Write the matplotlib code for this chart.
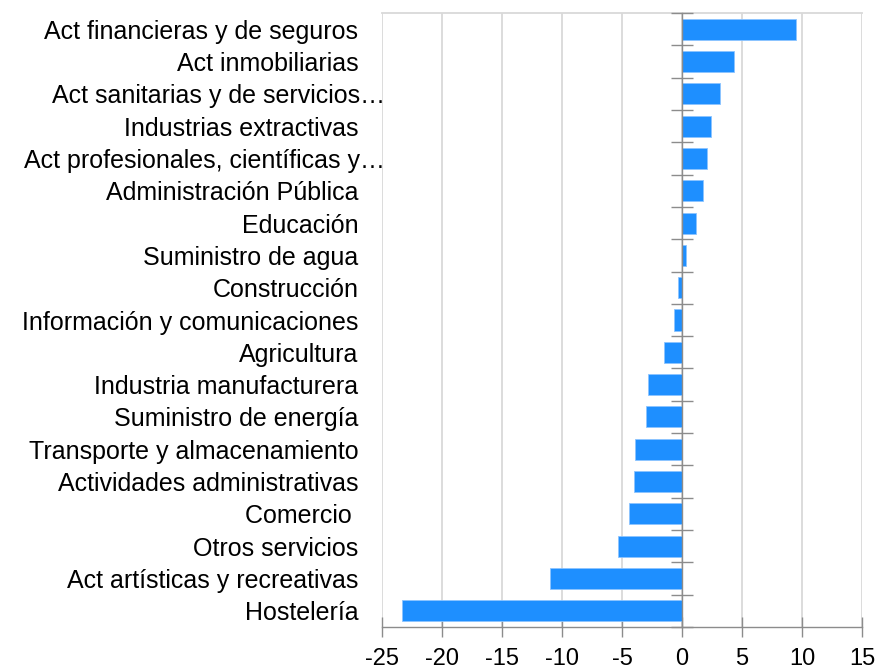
import matplotlib.pyplot as plt
import matplotlib.transforms as mtransforms

plt.rcParams['font.family'] = ['Liberation Sans', 'DejaVu Sans']
plt.rcParams['axes.unicode_minus'] = False

sectors = [
    "Act financieras y de seguros",
    "Act inmobiliarias",
    "Act sanitarias y de servicios…",
    "Industrias extractivas",
    "Act profesionales, científicas y…",
    "Administración Pública",
    "Educación",
    "Suministro de agua",
    "Construcción",
    "Información y comunicaciones",
    "Agricultura",
    "Industria manufacturera",
    "Suministro de energía",
    "Transporte y almacenamiento",
    "Actividades administrativas",
    "Comercio ",
    "Otros servicios",
    "Act artísticas y recreativas",
    "Hostelería",
]
change = [9.5, 4.3, 3.2, 2.45, 2.1, 1.75, 1.2, 0.3, -0.3, -0.65, -1.5,
          -2.8, -3.0, -3.9, -4.0, -4.4, -5.3, -11.0, -23.3]

fig = plt.figure(figsize=(8.77, 6.69), dpi=100)
rect = [382 / 877, 42 / 669, 480 / 877, 614 / 669]
ax = fig.add_axes(rect)

n = len(sectors)
ypos = list(range(n))[::-1]
ax.barh(ypos, change, height=0.65, color='#1e8fff', edgecolor='#8cc4ff',
        linewidth=0.6, zorder=3)

ax.set_xlim(-25, 15)
ax.set_ylim(-0.5, n - 0.5)
ax.set_xticks(range(-25, 16, 5))
ax.grid(axis='x', color='#d9d9d9', linewidth=1.3, zorder=0)

for s in ['left', 'right']:
    ax.spines[s].set_visible(False)
ax.spines['top'].set_color('#d9d9d9')
ax.spines['top'].set_linewidth(1.3)
ax.spines['bottom'].set_color('#8c8c8c')
ax.spines['bottom'].set_linewidth(1.0)
ax.tick_params(axis='x', direction='inout', length=14, width=1.0,
               color='#8c8c8c', labelsize=17, pad=8)

ax.set_yticks(ypos)
ax.set_yticklabels(sectors)
ax.tick_params(axis='y', length=0, labelsize=18, pad=17)
shift = mtransforms.ScaledTranslation(27 / 100, 0, fig.dpi_scale_trans)
for lab in ax.get_yticklabels():
    if lab.get_text().endswith('…'):
        lab.set_transform(lab.get_transform() + shift)

# overlay axes: vertical axis line at zero with category boundary ticks
ax0 = fig.add_axes(rect)
ax0.set_xlim(ax.get_xlim())
ax0.set_ylim(ax.get_ylim())
ax0.patch.set_visible(False)
for s in ['top', 'right', 'bottom']:
    ax0.spines[s].set_visible(False)
ax0.spines['left'].set_position(('data', 0))
ax0.spines['left'].set_color('#8c8c8c')
ax0.spines['left'].set_linewidth(1.0)
ax0.set_yticks([i - 0.5 for i in range(n + 1)])
ax0.set_xticks([])
ax0.tick_params(axis='y', direction='inout', length=16, width=1.0,
                color='#8c8c8c', labelleft=False)

fig.savefig('out.png', dpi=100)
